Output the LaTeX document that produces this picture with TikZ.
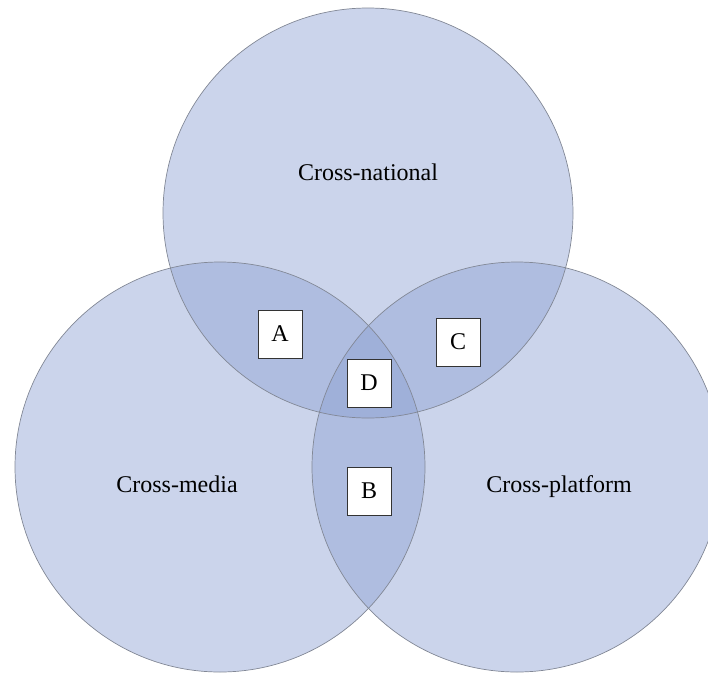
\documentclass[tikz,border=0pt]{standalone}
\usepackage{fontspec}
\setmainfont{Liberation Serif}
\definecolor{vennfill}{RGB}{140,160,210}
\definecolor{vennline}{RGB}{130,136,150}
\begin{document}
\begin{tikzpicture}[x=1pt,y=-1pt,
  lab/.style={font=\fontsize{24}{28}\selectfont,anchor=base,inner sep=0pt},
  letterbox/.style={draw=black!80,fill=white,line width=0.6pt,minimum width=44pt,minimum height=48pt,inner sep=0pt,font=\fontsize{24}{28}\selectfont}]
\useasboundingbox (0,0) rectangle (708,672);
\begin{scope}
\clip (0,0) rectangle (708,672);
\fill[vennfill,opacity=0.45] (368,213) circle[radius=205];
\fill[vennfill,opacity=0.45] (220,467) circle[radius=205];
\fill[vennfill,opacity=0.45] (517,467) circle[radius=205];
\draw[vennline,line width=0.7pt] (368,213) circle[radius=205];
\draw[vennline,line width=0.7pt] (220,467) circle[radius=205];
\draw[vennline,line width=0.7pt] (517,467) circle[radius=205];
\end{scope}
\node[lab] (nat) at (368,180) {Cross-national};
\node[lab] (med) at (177,492) {Cross-media};
\node[lab] (plat) at (559,492) {Cross-platform};
\node[letterbox] (A) at (280,334) {A};
\node[letterbox] (C) at (458,342) {C};
\node[letterbox] (D) at (369,383) {D};
\node[letterbox] (B) at (369,491) {B};
\end{tikzpicture}
\end{document}
